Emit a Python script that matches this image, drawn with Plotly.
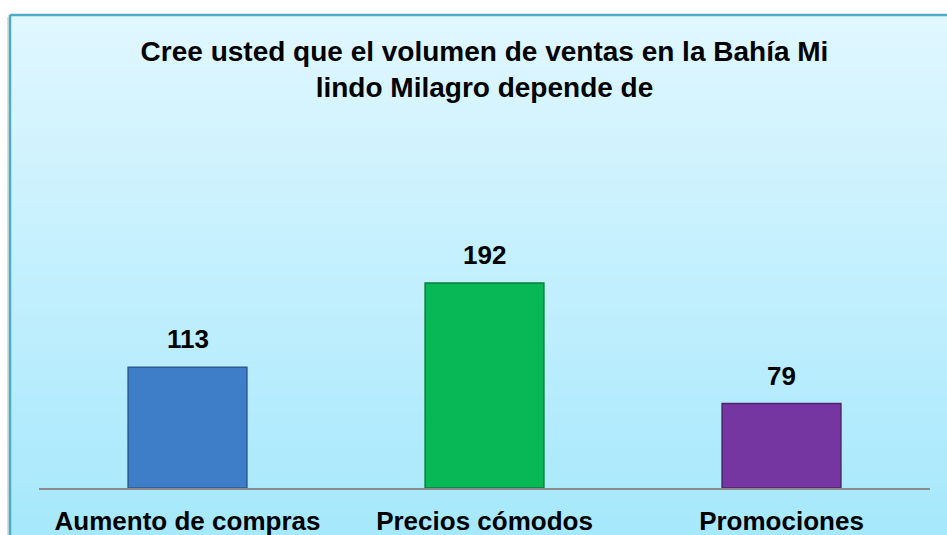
import plotly.graph_objects as go

# Data
categories = ["Aumento de compras", "Precios cómodos", "Promociones"]
values = [113, 192, 79]
bar_colors = ["#3e7dc8", "#08b755", "#7536a1"]
bar_edges = ["#2a5a92", "#06803b", "#4e2270"]
title_text = "Cree usted que el volumen de ventas en la Bahía Mi<br>lindo Milagro depende de"

# Styles
W, H = 947, 535
m_l, m_r, m_t, m_b = 39, 17, 253, 47
font_family = "Liberation Sans, Arial, sans-serif"
border_color = "#4bacc6"
top_rgb = (224, 247, 255)
bottom_rgb = (166, 232, 252)

fig = go.Figure()

fig.add_trace(go.Bar(
    x=categories,
    y=values,
    width=0.4,
    marker=dict(color=bar_colors, line=dict(color=bar_edges, width=1.5)),
    hoverinfo="x+y",
))

# value labels above the bars
for cat, val in zip(categories, values):
    fig.add_annotation(
        x=cat, y=val, text=str(val),
        showarrow=False, yanchor="bottom", yshift=11,
        font=dict(size=26, color="black", family=font_family, weight="bold"),
    )

# background box with a vertical gradient (stacked bands)
plot_w = W - m_l - m_r
plot_h = H - m_t - m_b
def px_to_paper_x(px):
    return (px - m_l) / plot_w
def px_to_paper_y(py):
    return (H - m_b - py) / plot_h

box_left, box_top = 10, 15
shapes = []
n_bands = 60
band_h = (H - box_top) / n_bands
for i in range(n_bands):
    t = i / (n_bands - 1)
    r = round(top_rgb[0] + (bottom_rgb[0] - top_rgb[0]) * t)
    g = round(top_rgb[1] + (bottom_rgb[1] - top_rgb[1]) * t)
    b = round(top_rgb[2] + (bottom_rgb[2] - top_rgb[2]) * t)
    y0 = box_top + i * band_h
    shapes.append(dict(
        type="rect", xref="paper", yref="paper", layer="below",
        x0=px_to_paper_x(box_left), x1=px_to_paper_x(W + 5),
        y0=px_to_paper_y(y0), y1=px_to_paper_y(y0 + band_h + 1),
        fillcolor=f"rgb({r},{g},{b})", line=dict(width=0),
    ))
# soft shadow + border (top and left edges)
shapes.append(dict(type="line", xref="paper", yref="paper", layer="below",
                   x0=px_to_paper_x(box_left - 2), x1=px_to_paper_x(box_left - 2),
                   y0=px_to_paper_y(box_top + 2), y1=px_to_paper_y(H + 5),
                   line=dict(color="#dcdcdc", width=2)))
shapes.append(dict(type="line", xref="paper", yref="paper", layer="below",
                   x0=px_to_paper_x(box_left), x1=px_to_paper_x(W + 5),
                   y0=px_to_paper_y(box_top), y1=px_to_paper_y(box_top),
                   line=dict(color=border_color, width=2.5)))
shapes.append(dict(type="line", xref="paper", yref="paper", layer="below",
                   x0=px_to_paper_x(box_left), x1=px_to_paper_x(box_left),
                   y0=px_to_paper_y(box_top), y1=px_to_paper_y(H + 5),
                   line=dict(color=border_color, width=2.5)))

fig.update_layout(
    width=W, height=H,
    margin=dict(l=m_l, r=m_r, t=m_t, b=m_b, pad=0),
    paper_bgcolor="white",
    plot_bgcolor="rgba(0,0,0,0)",
    showlegend=False,
    shapes=shapes,
    title=dict(
        text=title_text,
        xref="paper", x=0.5, xanchor="center",
        yref="container", y=1 - 61 / H, yanchor="top",
        font=dict(size=28, color="black", family=font_family, weight="bold"),
    ),
    xaxis=dict(
        showline=True, linecolor="#8c8c8c", linewidth=1.5,
        ticks="", showgrid=False, ticklabelstandoff=9, automargin=False,
        tickfont=dict(size=26, color="black", family=font_family, weight="bold"),
    ),
    yaxis=dict(
        range=[0, 220], visible=False, showgrid=False, zeroline=False,
        automargin=False,
    ),
)

# drop the default page margin so the figure fills the window exactly
fig.write_html("out.html", config={"displayModeBar": False},
               post_script="document.body.style.margin='0';")
